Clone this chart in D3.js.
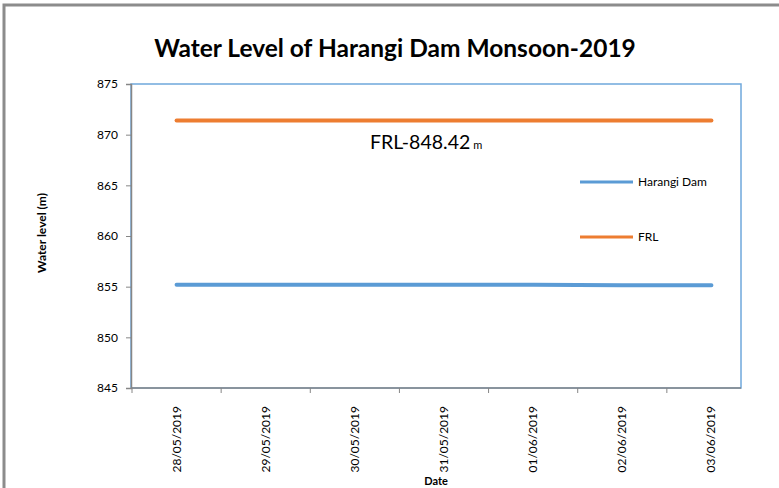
<!DOCTYPE html>
<html>
<head>
<meta charset="utf-8">
<script src="https://cdn.jsdelivr.net/npm/d3@7"></script>
<style>
  body { margin: 0; background: #fff; }
  text { font-family: Lato, "Open Sans", sans-serif; fill: #000; }
</style>
</head>
<body>
<div id="chart"></div>
<script>
// data
var dates = ["28/05/2019", "29/05/2019", "30/05/2019", "31/05/2019", "01/06/2019", "02/06/2019", "03/06/2019"];
var harangi = [855.2, 855.2, 855.2, 855.2, 855.2, 855.15, 855.15];
var frl = [871.4, 871.4, 871.4, 871.4, 871.4, 871.4, 871.4];
var yTicks = [845, 850, 855, 860, 865, 870, 875];

var svgWidth = 779;
var svgHeight = 488;
var margin = {top: 84, right: 38, bottom: 100, left: 131};
var chartWidth = 741 - margin.left;
var chartHeight = 388 - margin.top;

var svg = d3.select("#chart")
  .append("svg")
  .attr("width", svgWidth)
  .attr("height", svgHeight);

// outer frame (top and left edges)
svg.append("path")
  .attr("d", "M4,488 V5 H779")
  .attr("fill", "none")
  .attr("stroke", "#8c8c8c")
  .attr("stroke-width", 3);

svg.append("text")
  .attr("x", 395)
  .attr("y", 57)
  .attr("text-anchor", "middle")
  .style("font-size", "24.5px")
  .style("font-weight", "bold")
  .text("Water Level of Harangi Dam Monsoon-2019");

var g = svg.append("g")
  .attr("transform", `translate(${margin.left},${margin.top})`);

// the category bands run a little past the plot's right edge in the original
var x = d3.scaleBand().domain(dates).range([1, 625]);
var y = d3.scaleLinear().domain([845, 875]).range([chartHeight, 0]);

// plot area border
g.append("rect")
  .attr("width", chartWidth)
  .attr("height", chartHeight)
  .attr("fill", "none")
  .attr("stroke", "#6fa8dc")
  .attr("stroke-width", 1.5);

// y axis
var leftAxis = d3.axisLeft(y).tickValues(yTicks).tickSize(5).tickPadding(8);
var yAxis = g.append("g").call(leftAxis);
yAxis.select(".domain").attr("stroke", "#868686").attr("stroke-width", 1.5);
yAxis.selectAll(".tick line").attr("stroke", "#868686");
yAxis.selectAll(".tick text").style("font-size", "12px").style("font-family", "Lato, sans-serif");

// x axis: ticks sit at category boundaries
var bottom = g.append("g").attr("transform", `translate(0,${chartHeight})`);
bottom.append("line")
  .attr("x1", 0).attr("x2", chartWidth)
  .attr("stroke", "#868686").attr("stroke-width", 1.5);
bottom.selectAll(".xt")
  .data(dates)
  .enter().append("line")
  .attr("x1", function(d) { return x(d); })
  .attr("x2", function(d) { return x(d); })
  .attr("y2", 5)
  .attr("stroke", "#868686");
bottom.selectAll(".xl")
  .data(dates)
  .enter().append("text")
  .attr("transform", function(d) {
    return "translate(" + (x(d) + x.bandwidth() / 2 + 4) + ",18) rotate(-90)";
  })
  .attr("text-anchor", "end")
  .style("font-size", "12px")
  .text(function(d) { return d; });

// lines
var line = d3.line()
  .x(function(d, i) { return x(dates[i]) + x.bandwidth() / 2; })
  .y(function(d) { return y(d); });

g.append("path")
  .datum(frl)
  .attr("d", line)
  .attr("fill", "none")
  .attr("stroke", "#ed7d31")
  .attr("stroke-width", 4)
  .attr("stroke-linecap", "round");

g.append("path")
  .datum(harangi)
  .attr("d", line)
  .attr("fill", "none")
  .attr("stroke", "#5b9bd5")
  .attr("stroke-width", 4)
  .attr("stroke-linecap", "round");

// annotation
var note = svg.append("text")
  .attr("x", 370)
  .attr("y", 149)
  .style("font-size", "19.5px");
note.append("tspan").text("FRL-848.42");
note.append("tspan").attr("dx", 3).style("font-size", "11px").text("m");

// legend
var legend = [{name: "Harangi Dam", color: "#5b9bd5", y: 182}, {name: "FRL", color: "#ed7d31", y: 237}];
legend.forEach(function(l) {
  svg.append("line")
    .attr("x1", 580).attr("x2", 633)
    .attr("y1", l.y).attr("y2", l.y)
    .attr("stroke", l.color).attr("stroke-width", 3);
  svg.append("text")
    .attr("x", 638).attr("y", l.y + 4)
    .style("font-size", "12px")
    .text(l.name);
});

// axis titles
svg.append("text")
  .attr("x", 436).attr("y", 485)
  .attr("text-anchor", "middle")
  .style("font-size", "11px")
  .style("font-weight", "bold")
  .text("Date");

svg.append("text")
  .attr("transform", "translate(46,233) rotate(-90)")
  .attr("text-anchor", "middle")
  .style("font-size", "12px")
  .style("font-weight", "bold")
  .text("Water level (m)");
</script>
</body>
</html>
